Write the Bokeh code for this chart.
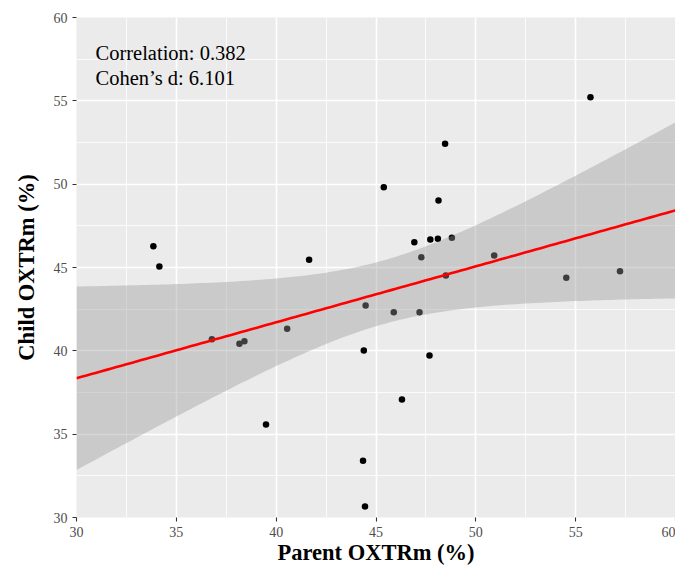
import numpy as np
from bokeh.plotting import figure
from bokeh.models import Range1d, FixedTicker, Label
from bokeh.embed import file_html
from bokeh.resources import INLINE

# ---- data ----
parent = [33.85, 34.15, 36.78, 38.16, 38.41, 39.49, 40.55, 41.65, 44.35, 44.45,
          44.39, 44.48, 45.39, 45.89, 46.30, 46.92, 47.18, 47.27, 47.68, 47.72,
          48.10, 48.13, 48.46, 48.50, 48.80, 50.92, 54.53, 55.74, 57.22]
child = [46.28, 45.06, 40.70, 40.42, 40.58, 35.58, 41.32, 45.46, 33.40, 30.66,
         40.02, 42.72, 49.82, 42.32, 37.08, 46.52, 42.32, 45.62, 39.72, 46.68,
         46.72, 49.02, 52.42, 44.52, 46.78, 45.72, 44.38, 55.22, 44.78]
x_ticks = [30, 35, 40, 45, 50, 55, 60]
y_ticks = [30, 35, 40, 45, 50, 55, 60]
x_minor = [32.5, 37.5, 42.5, 47.5, 52.5, 57.5]
y_minor = [32.5, 37.5, 42.5, 47.5, 52.5, 57.5]
stats_text = ["Correlation: 0.382", "Cohen\u2019s d: 6.101"]
x_title = "Parent OXTRm (%)"
y_title = "Child OXTRm (%)"

# ---- linear fit with 95% confidence band (as geom_smooth(method="lm")) ----
xa = np.array(parent)
ya = np.array(child)
n = len(xa)
xm, ym = xa.mean(), ya.mean()
sxx = ((xa - xm) ** 2).sum()
slope = ((xa - xm) * (ya - ym)).sum() / sxx
icpt = ym - slope * xm
resid = ya - (icpt + slope * xa)
s = np.sqrt((resid ** 2).sum() / (n - 2))
t975 = 2.0518  # t quantile, df = 27
xg = np.linspace(30, 60, 121)
yg = icpt + slope * xg
se = s * np.sqrt(1.0 / n + (xg - xm) ** 2 / sxx)
lo = yg - t975 * se
hi = yg + t975 * se

p = figure(width=675, height=569, x_range=Range1d(30, 60), y_range=Range1d(30, 60),
           output_backend="svg", toolbar_location=None,
           min_border_left=76, min_border_right=0, min_border_top=17, min_border_bottom=52,
           x_axis_label=x_title, y_axis_label=y_title)
p.background_fill_color = "#EBEBEB"
p.border_fill_color = "white"
p.outline_line_color = None

p.xaxis.ticker = FixedTicker(ticks=x_ticks, minor_ticks=x_minor)
p.yaxis.ticker = FixedTicker(ticks=y_ticks, minor_ticks=y_minor)
for ax in (p.xaxis, p.yaxis):
    ax.axis_line_color = None
    ax.major_tick_line_color = "#333333"
    ax.major_tick_line_width = 1.1
    ax.major_tick_in = 0
    ax.major_tick_out = 4
    ax.minor_tick_line_color = None
    ax.major_label_text_font = "Liberation Serif"
    ax.major_label_text_font_size = "14px"
    ax.major_label_text_color = "#4D4D4D"
    ax.major_label_standoff = 5
    ax.axis_label_text_font = "Liberation Serif"
    ax.axis_label_text_font_size = "22.5px"
    ax.axis_label_text_font_style = "bold"
    ax.axis_label_text_color = "black"
p.xaxis.axis_label_standoff = 0
p.yaxis.axis_label_standoff = 12

for g in (p.xgrid, p.ygrid):
    g.grid_line_color = "white"
    g.grid_line_width = 1.6
    g.minor_grid_line_color = "white"
    g.minor_grid_line_width = 0.8

p.scatter(parent, child, size=6.5, fill_color="black", line_color=None)
p.varea(x=xg, y1=lo, y2=hi, fill_color="#999999", fill_alpha=0.4)
p.line(xg, yg, line_color="red", line_width=2.6)

# statistics annotation
for txt, yy in zip(stats_text, [57.88, 56.38]):
    p.add_layout(Label(x=30.95, y=yy, text=txt, text_font="Liberation Serif",
                       text_font_size="20.5px", text_color="black",
                       text_align="left", text_baseline="alphabetic"))

open("out.html", "w").write(file_html(p, INLINE))
